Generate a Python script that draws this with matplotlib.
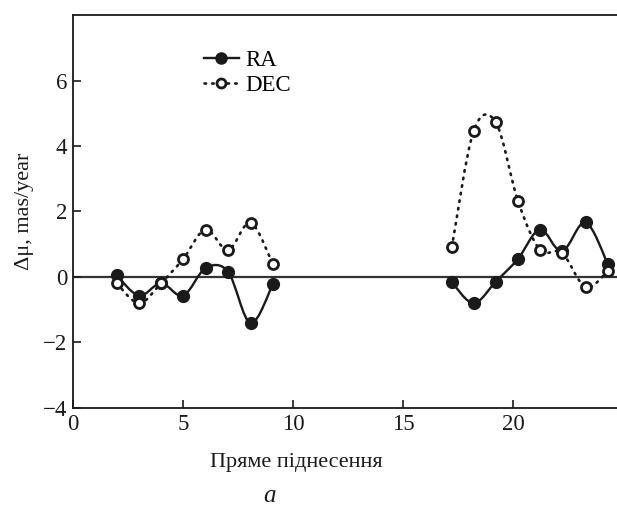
import numpy as np
import matplotlib
matplotlib.use("Agg")
import matplotlib.pyplot as plt
from matplotlib.path import Path
from matplotlib.patches import PathPatch
from matplotlib.lines import Line2D

plt.rcParams['font.family'] = ['Liberation Serif', 'DejaVu Serif']

# right ascension (hours), two groups of points
ra_left = [1.98, 3.0, 4.0, 5.0, 6.02, 7.04, 8.06, 9.08]
ra_right = [17.2, 18.19, 19.2, 20.2, 21.2, 22.2, 23.27, 24.28]

# RA residuals
ra_vals_left = [0.05, -0.57, -0.19, -0.57, 0.27, 0.16, -1.41, -0.21]
ra_vals_right = [-0.16, -0.8, -0.14, 0.55, 1.45, 0.78, 1.67, 0.4]

# DEC residuals
dec_vals_left = [-0.19, -0.8, -0.19, 0.55, 1.45, 0.82, 1.66, 0.39]
dec_vals_right = [0.91, 4.46, 4.72, 2.33, 0.83, 0.74, -0.31, 0.18]

xticks = [0, 5, 10, 15, 20]
yticks = [-4, -2, 0, 2, 4, 6]

ink = '#1a1a1a'
dots = (0, (0.6, 2.3))


def smooth_path(x, y):
    # cubic bezier segments through the points (catmull-rom style)
    pts = np.column_stack([x, y])
    n = len(pts)
    verts = [pts[0]]
    codes = [Path.MOVETO]
    for i in range(n - 1):
        p0 = pts[i - 1] if i > 0 else pts[i]
        p1 = pts[i]
        p2 = pts[i + 1]
        p3 = pts[i + 2] if i + 2 < n else pts[i + 1]
        c1 = p1 + (p2 - p0) / 6.0
        c2 = p2 - (p3 - p1) / 6.0
        verts += [c1, c2, p2]
        codes += [Path.CURVE4] * 3
    return Path(verts, codes)


fig = plt.figure(figsize=(6.17, 5.07), dpi=100)
ax = fig.add_axes([0.1183, 0.1953, 0.8817, 0.7751])

ax.axhline(0, color='#333333', lw=1.6, zorder=1)

for xs, ys in [(ra_left, ra_vals_left), (ra_right, ra_vals_right)]:
    ax.add_patch(PathPatch(smooth_path(xs, ys), fill=False, color=ink, lw=1.7, zorder=2))
    ax.plot(xs, ys, ls='none', marker='o', ms=8.5, color=ink, zorder=3)

for xs, ys in [(ra_left, dec_vals_left), (ra_right, dec_vals_right)]:
    ax.add_patch(PathPatch(smooth_path(xs, ys), fill=False, color=ink, lw=1.9,
                           ls=dots, capstyle='round', zorder=2))
    ax.plot(xs, ys, ls='none', marker='o', ms=7.2, mfc='white', mec=ink, mew=2.0, zorder=4)

ax.set_xlim(0, 24.7)
ax.set_ylim(-4, 8)
ax.set_xticks(xticks)
ax.set_yticks(yticks)
ax.set_yticklabels(['\u2212' + str(-t) if t < 0 else str(t) for t in yticks])
ax.tick_params(direction='in', length=6, width=1.2, labelsize=16.5, colors=ink, pad=4)
for s in ['left', 'bottom', 'top']:
    ax.spines[s].set_linewidth(1.3)
    ax.spines[s].set_color(ink)
ax.spines['right'].set_visible(False)

ax.set_xlabel('Пряме піднесення', fontsize=16, color=ink)
ax.xaxis.set_label_coords((296 - 73) / 544, -0.115)
ax.set_ylabel('\u0394\u03bc, mas/year', fontsize=16, color=ink)
ax.yaxis.set_label_coords(-0.072, 0.5)

handles = [
    Line2D([], [], color=ink, lw=1.7, marker='o', ms=8),
    Line2D([], [], color=ink, lw=1.9, ls=dots, dash_capstyle='round', marker='o', ms=6.5,
           mfc='white', mew=2.0),
]
ax.legend(handles, ['RA', 'DEC'], loc='upper left', bbox_to_anchor=(0.22, 0.94),
          frameon=False, fontsize=16.5, handlelength=1.5, handletextpad=0.3,
          labelspacing=0.15, borderpad=0)

fig.text(0.437, 0.01, 'a', fontsize=18, style='italic', color=ink, ha='center')

fig.savefig('out.png', dpi=100)
